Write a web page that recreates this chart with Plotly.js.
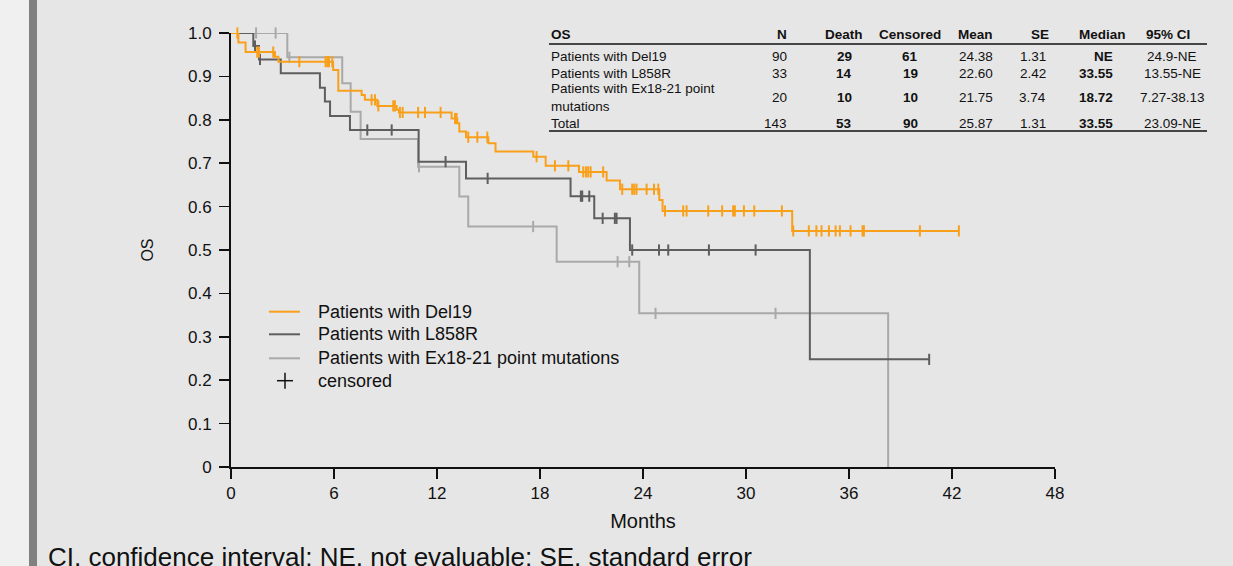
<!DOCTYPE html>
<html>
<head>
<meta charset="utf-8">
<script src="https://cdn.plot.ly/plotly-3.0.1.min.js"></script>
<style>
  html, body { margin: 0; padding: 0; width: 1233px; height: 566px; overflow: hidden; background: #e6e6e6; }
  #strip { position: absolute; left: 0; top: 0; width: 29px; height: 566px; background: #f0f0f0; }
  #bar { position: absolute; left: 29px; top: 0; width: 8px; height: 566px; background: #808080; }
  #chart { position: absolute; left: 0; top: 0; width: 1233px; height: 566px; }
  #note { position: absolute; left: 48px; top: 544px; font-family: "Liberation Sans", Arial, sans-serif;
          font-size: 26px; line-height: 26px; color: #111; white-space: nowrap; }
</style>
</head>
<body>
<div id="strip"></div>
<div id="bar"></div>
<div id="chart"></div>
<div id="note">CI, confidence interval; NE, not evaluable; SE, standard error</div>
<script>
// ---------------- DATA ----------------
const seriesNames = ["Patients with Del19", "Patients with L858R", "Patients with Ex18-21 point mutations"];

// Del19: event times (months) and survival after each step
const del19Times = [0.43, 0.85, 2.56, 2.76, 5.95, 6.25, 7.61, 7.8, 8.52, 9.65, 9.78, 12.85, 13.18, 13.3, 13.69, 14.99, 15.41, 17.61, 18.33, 20.27, 21.88, 22.66, 24.95, 25.14, 32.69];
const del19Surv  = [0.978, 0.956, 0.945, 0.934, 0.915, 0.867, 0.857, 0.846, 0.832, 0.823, 0.817, 0.803, 0.792, 0.773, 0.760, 0.746, 0.727, 0.715, 0.694, 0.680, 0.660, 0.640, 0.615, 0.590, 0.544];
const del19Censor = [0.37, 1.53, 1.63, 2.46, 3.98, 5.51, 5.61, 5.71, 5.9, 8.19, 8.39, 8.58, 9.45, 9.55, 9.84, 10.0, 10.9, 11.3, 12.21, 13.05, 13.14, 13.82, 14.35, 14.93, 17.8, 18.87, 19.65, 20.52, 20.68, 20.81, 20.95, 21.68, 22.79, 23.37, 23.49, 23.62, 24.21, 24.64, 24.89, 25.28, 26.34, 26.54, 27.8, 28.61, 29.25, 29.35, 29.88, 30.48, 32.09, 32.75, 33.66, 34.1, 34.4, 34.83, 35.22, 35.47, 36.09, 36.79, 36.87, 40.13, 42.4];

// L858R
const l858Times = [1.3, 1.63, 2.9, 5.18, 5.47, 5.77, 6.93, 10.93, 13.69, 19.78, 21.16, 23.24, 33.72];
const l858Surv  = [0.970, 0.939, 0.907, 0.874, 0.842, 0.809, 0.7765, 0.7035, 0.665, 0.624, 0.573, 0.500, 0.248];
const l858Censor = [1.4, 1.69, 7.94, 9.36, 12.5, 14.95, 20.38, 20.46, 20.87, 21.65, 22.36, 22.46, 23.37, 24.93, 25.47, 27.84, 30.56, 40.67];

// Ex18-21 point mutations
const exTimes = [3.28, 6.48, 6.97, 7.55, 10.9, 13.3, 13.82, 18.97, 23.78, 38.28];
const exSurv  = [0.944, 0.884, 0.8187, 0.756, 0.692, 0.623, 0.554, 0.473, 0.354, 0];
const exCensor = [1.46, 2.6, 3.4, 10.95, 17.6, 22.52, 23.2, 24.73, 31.72];

// Summary table
const tableHeader = ["OS", "N", "Death", "Censored", "Mean", "SE", "Median", "95% CI"];
const tableRowLabels = ["Patients with Del19", "Patients with L858R", "Patients with Ex18-21 point<br>mutations", "Total"];
const tableN        = ["90", "33", "20", "143"];
const tableDeath    = ["29", "14", "10", "53"];
const tableCensored = ["61", "19", "10", "90"];
const tableMean     = ["24.38", "22.60", "21.75", "25.87"];
const tableSE       = ["1.31", "2.42", "3.74", "1.31"];
const tableMedian   = ["NE", "33.55", "18.72", "33.55"];
const tableCI       = ["24.9-NE", "13.55-NE", "7.27-38.13", "23.09-NE"];

const xTicks = [0, 6, 12, 18, 24, 30, 36, 42, 48];
const yTicks = [0, 0.1, 0.2, 0.3, 0.4, 0.5, 0.6, 0.7, 0.8, 0.9, 1.0];
const yTickText = ["0", "0.1", "0.2", "0.3", "0.4", "0.5", "0.6", "0.7", "0.8", "0.9", "1.0"];

// ---------------- STYLE / LAYOUT ----------------
const colors = ["#f9a01b", "#5e5e5e", "#a9a9a9"];
const FONT = '"Liberation Sans", Arial, sans-serif';
const TXT = "#111111";
const L = 231, R = 1055, T = 33, B = 467;
const px2x = p => (p - L) / (R - L);
const py2y = p => (B - p) / (B - T);

function stepLine(times, surv, endTime) {
  const x = [0].concat(times), y = [1].concat(surv);
  if (endTime !== undefined && endTime > x[x.length - 1]) { x.push(endTime); y.push(y[y.length - 1]); }
  return { x, y };
}
function levelAt(times, surv, t) {
  let v = 1;
  for (let i = 0; i < times.length; i++) if (times[i] <= t) v = surv[i];
  return v;
}

const groups = [
  { times: exTimes, surv: exSurv, cens: exCensor, color: colors[2], end: undefined },
  { times: l858Times, surv: l858Surv, cens: l858Censor, color: colors[1], end: Math.max(...l858Censor) },
  { times: del19Times, surv: del19Surv, cens: del19Censor, color: colors[0], end: Math.max(...del19Censor) }
];
const names = [seriesNames[2], seriesNames[1], seriesNames[0]];

const traces = [];
groups.forEach((g, i) => {
  const s = stepLine(g.times, g.surv, g.end);
  traces.push({ type: "scatter", mode: "lines", x: s.x, y: s.y, name: names[i],
    line: { shape: "hv", color: g.color, width: 2 }, cliponaxis: false, showlegend: false, hoverinfo: "x+y" });
  traces.push({ type: "scatter", mode: "markers", x: g.cens, y: g.cens.map(t => levelAt(g.times, g.surv, t)),
    name: names[i] + " censored", cliponaxis: false, showlegend: false,
    marker: { symbol: "line-ns", size: 8, color: g.color, line: { color: g.color, width: 2 } } });
});

const annotations = [];
const shapes = [];

// Table
const rowY = [57, 73, 98, 123];
const headerY = 34.5;
const colDefs = [
  { hx: 549, ha: "left",   vx: 549, va: "left",   vals: tableRowLabels, bold: false },
  { hx: 789, ha: "right",  vx: 789, va: "right",  vals: tableN, bold: false },
  { hx: 844, ha: "center", vx: 844, va: "center", vals: tableDeath, bold: true },
  { hx: 910, ha: "center", vx: 910, va: "center", vals: tableCensored, bold: true },
  { hx: 975, ha: "center", vx: 976, va: "center", vals: tableMean, bold: false },
  { hx: 1040, ha: "center", vx: 1048, va: "right", vals: tableSE, bold: false },
  { hx: 1102, ha: "center", vx: 1115, va: "right", vals: tableMedian, bold: true },
  { hx: 1168, ha: "center", vx: 1172, va: "center", vals: tableCI, bold: false }
];
colDefs.forEach((c, ci) => {
  annotations.push({ xref: "paper", yref: "paper", x: px2x(c.hx), y: py2y(headerY), xanchor: c.ha, yanchor: "middle",
    text: "<b>" + tableHeader[ci] + "</b>", showarrow: false, font: { family: FONT, size: 13.5, color: TXT } });
  c.vals.forEach((v, ri) => {
    annotations.push({ xref: "paper", yref: "paper", x: px2x(c.vx), y: py2y(rowY[ri]), xanchor: c.va, yanchor: "middle",
      align: "left", text: c.bold ? "<b>" + v + "</b>" : v, showarrow: false, font: { family: FONT, size: 13.5, color: TXT } });
  });
});
[44, 131].forEach(yy => shapes.push({ type: "line", xref: "paper", yref: "paper", x0: px2x(549), x1: px2x(1207),
  y0: py2y(yy), y1: py2y(yy), line: { color: "#111", width: 1.5 } }));

// Legend (manual)
const legY = [311.7, 334.3, 358.3];
seriesNames.forEach((n, i) => {
  shapes.push({ type: "line", xref: "paper", yref: "paper", x0: px2x(269), x1: px2x(300), y0: py2y(legY[i]), y1: py2y(legY[i]),
    line: { color: colors[i], width: 2 } });
  annotations.push({ xref: "paper", yref: "paper", x: px2x(316), y: py2y(legY[i]), xanchor: "left", yanchor: "middle",
    text: n, showarrow: false, font: { family: FONT, size: 18, color: TXT } });
});
const cy = 380.7, cx = 285;
shapes.push({ type: "line", xref: "paper", yref: "paper", x0: px2x(cx - 8), x1: px2x(cx + 8), y0: py2y(cy), y1: py2y(cy), line: { color: "#111", width: 1.5 } });
shapes.push({ type: "line", xref: "paper", yref: "paper", x0: px2x(cx), x1: px2x(cx), y0: py2y(cy - 8), y1: py2y(cy + 8), line: { color: "#111", width: 1.5 } });
annotations.push({ xref: "paper", yref: "paper", x: px2x(316), y: py2y(cy), xanchor: "left", yanchor: "middle",
  text: "censored", showarrow: false, font: { family: FONT, size: 18, color: TXT } });

const layout = {
  width: 1233, height: 566,
  margin: { l: L, r: 1233 - R, t: T, b: 566 - B, pad: 0 },
  paper_bgcolor: "rgba(0,0,0,0)", plot_bgcolor: "rgba(0,0,0,0)",
  showlegend: false,
  font: { family: FONT, color: TXT, size: 17 },
  xaxis: {
    range: [0, 48], tickvals: xTicks, ticktext: xTicks.map(String), ticks: "outside", ticklen: 10, tickwidth: 1.5, tickcolor: "#111",
    showline: true, linecolor: "#111", linewidth: 2, showgrid: false, zeroline: false, fixedrange: true,
    tickfont: { family: FONT, size: 17, color: TXT },
    title: { text: "Months", font: { family: FONT, size: 20, color: TXT }, standoff: 12 }, automargin: false
  },
  yaxis: {
    range: [0, 1], tickvals: yTicks, ticktext: yTickText, ticks: "outside", ticklen: 10, tickwidth: 1.5, tickcolor: "#111",
    showline: true, linecolor: "#111", linewidth: 2, showgrid: false, zeroline: false, fixedrange: true,
    tickfont: { family: FONT, size: 17, color: TXT }, ticklabelstandoff: 4,
    title: { text: "OS", font: { family: FONT, size: 16, color: TXT }, standoff: 30 }, automargin: false
  },
  annotations: annotations,
  shapes: shapes
};

Plotly.newPlot("chart", traces, layout, { displayModeBar: false, staticPlot: true });
</script>
</body>
</html>
